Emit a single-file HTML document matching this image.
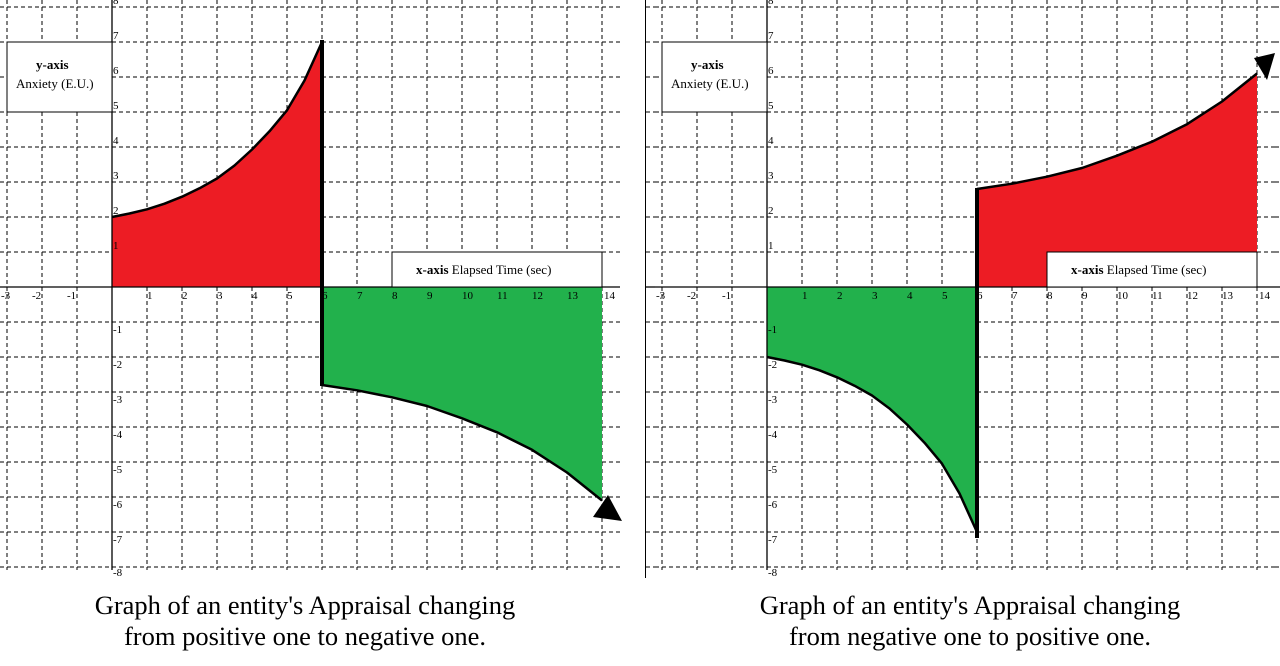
<!DOCTYPE html>
<html><head><meta charset="utf-8"><style>
html,body{margin:0;padding:0;background:#fff;}
svg{display:block;}
.t{font-family:"Liberation Serif",serif;font-size:11px;fill:#000;}
.c{font-family:"Liberation Serif",serif;font-size:26.5px;fill:#000;text-anchor:middle;}
.b{font-family:"Liberation Serif",serif;font-size:13px;fill:#000;}
</style></head><body>
<svg width="1280" height="666" viewBox="0 0 1280 666" xmlns="http://www.w3.org/2000/svg">
<rect width="1280" height="666" fill="#fff"/>
<defs>
<g id="grid">
<path stroke="#000" stroke-width="1" stroke-dasharray="4,3" fill="none" d="M7 0V570M42 0V570M77 0V570M147 0V570M182 0V570M217 0V570M252 0V570M287 0V570M322 0V570M357 0V570M392 0V570M427 0V570M462 0V570M497 0V570M532 0V570M567 0V570M602 0V570
M0 7H620M0 42H620M0 77H620M0 112H620M0 147H620M0 182H620M0 217H620M0 252H620M0 322H620M0 357H620M0 392H620M0 427H620M0 462H620M0 497H620M0 532H620M0 567H620"/>
</g>
<g id="labels" class="t">
<text x="1" y="299">-3</text><text x="32" y="299">-2</text><text x="67" y="299">-1</text>
<text x="147" y="299">1</text><text x="182" y="299">2</text><text x="217" y="299">3</text><text x="252" y="299">4</text><text x="287" y="299">5</text><text x="322" y="299">6</text><text x="357" y="299">7</text><text x="392" y="299">8</text><text x="427" y="299">9</text><text x="462" y="299">10</text><text x="497" y="299">11</text><text x="532" y="299">12</text><text x="567" y="299">13</text><text x="604" y="299">14</text>
<text x="113" y="4">8</text><text x="113" y="39">7</text><text x="113" y="74">6</text><text x="113" y="109">5</text><text x="113" y="144">4</text><text x="113" y="179">3</text><text x="113" y="214">2</text><text x="113" y="249">1</text>
<text x="113" y="333">-1</text><text x="113" y="368">-2</text><text x="113" y="403">-3</text><text x="113" y="438">-4</text><text x="113" y="473">-5</text><text x="113" y="508">-6</text><text x="113" y="543">-7</text><text x="113" y="576">-8</text>
</g>
</defs>

<!-- LEFT CHART -->
<use href="#grid"/>
<polygon fill="#ed1c24" points="112,287 112,217 129.5,213.5 147,209.3 164.5,203.7 182,196.7 199.5,188.3 217,178.5 234.5,165.5 252,149.5 269.5,131.3 287,110.3 304.5,80.5 322,42 322,287"/>
<polygon fill="#22b14c" points="322,287 322,385 357,390.3 392,397.3 427,406 462,418.3 497,432.3 532,449.8 567,472.5 602,500.5 602,287"/>
<path stroke="#000" stroke-width="1.3" fill="none" d="M112 0V570M0 287H620"/>
<use href="#labels"/>
<polyline fill="none" stroke="#000" stroke-width="2.5" stroke-linejoin="round" points="112,217 129.5,213.5 147,209.3 164.5,203.7 182,196.7 199.5,188.3 217,178.5 234.5,165.5 252,149.5 269.5,131.3 287,110.3 304.5,80.5 322,42"/>
<polyline fill="none" stroke="#000" stroke-width="2.5" stroke-linejoin="round" points="322,385 357,390.3 392,397.3 427,406 462,418.3 497,432.3 532,449.8 567,472.5 602,500.5"/>
<path stroke="#000" stroke-width="4" d="M322 40V386"/>
<polygon fill="#000" points="593,517 608,495 622,521"/>
<rect x="7" y="42" width="105" height="70" fill="#fff" stroke="#000"/>
<text class="b" x="36" y="69" font-weight="bold">y-axis</text>
<text class="b" x="16" y="88">Anxiety (E.U.)</text>
<rect x="392" y="252" width="210" height="35" fill="#fff" stroke="#000"/>
<text class="b" x="416" y="274"><tspan font-weight="bold">x-axis</tspan> Elapsed Time (sec)</text>

<!-- RIGHT CHART -->
<path stroke="#000" stroke-width="1" stroke-dasharray="4,3" d="M646 7H655M646 42H655M646 77H655M646 112H655M646 147H655M646 182H655M646 217H655M646 252H655M646 322H655M646 357H655M646 392H655M646 427H655M646 462H655M646 497H655M646 532H655M646 567H655"/>
<path stroke="#000" stroke-width="1.3" d="M646 287H655"/>
<g transform="translate(655,0)">
<use href="#grid"/>
<path stroke="#000" stroke-width="1" stroke-dasharray="4,3" d="M620 7H625M620 42H625M620 77H625M620 112H625M620 147H625M620 182H625M620 217H625M620 252H625M620 322H625M620 357H625M620 392H625M620 427H625M620 462H625M620 497H625M620 532H625M620 567H625"/>
<polygon fill="#22b14c" points="112,287 112,357 129.5,360.5 147,364.7 164.5,370.3 182,377.3 199.5,385.7 217,395.5 234.5,408.5 252,424.5 269.5,442.7 287,463.7 304.5,493.5 322,532 322,287"/>
<polygon fill="#ed1c24" points="322,287 322,189 357,183.7 392,176.7 427,168 462,155.7 497,141.7 532,124.2 567,101.5 602,73.5 602,287"/>
<path stroke="#000" stroke-width="1.3" fill="none" d="M112 0V570M0 287H625"/>
<use href="#labels"/>
<polyline fill="none" stroke="#000" stroke-width="2.5" stroke-linejoin="round" points="112,357 129.5,360.5 147,364.7 164.5,370.3 182,377.3 199.5,385.7 217,395.5 234.5,408.5 252,424.5 269.5,442.7 287,463.7 304.5,493.5 322,532"/>
<polyline fill="none" stroke="#000" stroke-width="2.5" stroke-linejoin="round" points="322,189 357,183.7 392,176.7 427,168 462,155.7 497,141.7 532,124.2 567,101.5 602,73.5"/>
<path stroke="#000" stroke-width="4" d="M322 188V538"/>
<polygon fill="#000" points="599,58 612,80 620,53"/>
<rect x="7" y="42" width="105" height="70" fill="#fff" stroke="#000"/>
<text class="b" x="36" y="69" font-weight="bold">y-axis</text>
<text class="b" x="16" y="88">Anxiety (E.U.)</text>
<rect x="392" y="252" width="210" height="35" fill="#fff" stroke="#000"/>
<text class="b" x="416" y="274"><tspan font-weight="bold">x-axis</tspan> Elapsed Time (sec)</text>
</g>
<path stroke="#000" stroke-width="1" d="M645.5 0V578"/>

<text class="c" x="305" y="614">Graph of an entity's Appraisal changing</text>
<text class="c" x="305" y="645">from positive one to negative one.</text>
<text class="c" x="970" y="614">Graph of an entity's Appraisal changing</text>
<text class="c" x="970" y="645">from negative one to positive one.</text>
</svg>
</body></html>
